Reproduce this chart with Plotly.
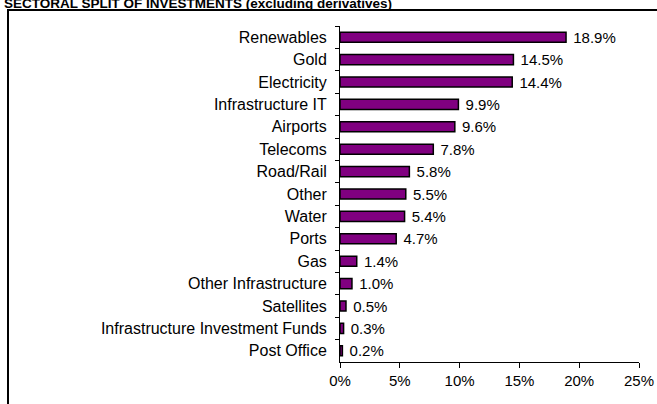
import plotly.graph_objects as go

categories = ["Renewables", "Gold", "Electricity", "Infrastructure IT", "Airports",
              "Telecoms", "Road/Rail", "Other", "Water", "Ports", "Gas",
              "Other Infrastructure", "Satellites", "Infrastructure Investment Funds",
              "Post Office"]
values = [18.9, 14.5, 14.4, 9.9, 9.6, 7.8, 5.8, 5.5, 5.4, 4.7, 1.4, 1.0, 0.5, 0.3, 0.2]
x_ticks = [0, 5, 10, 15, 20, 25]
x_tick_labels = ["0%", "5%", "10%", "15%", "20%", "25%"]
title_text = "SECTORAL SPLIT OF INVESTMENTS (excluding derivatives)"

W, H = 657, 404
L, R, T, B = 340, 18, 26, 42
pw, ph = W - L - R, H - T - B

def px_x(p):
    return (p - L) / pw

def px_y(p):
    return 1 - (p - T) / ph

FONT = "Liberation Sans, Arial"

fig = go.Figure(go.Bar(
    x=values, y=categories, orientation="h",
    marker=dict(color="#800080", line=dict(color="black", width=1.5)),
    width=0.45,
    text=["\u00a0" + f"{v:.1f}%" for v in values], textposition="outside",
    textfont=dict(family=FONT, size=15, color="black"),
    constraintext="none",
    cliponaxis=False,
    hoverinfo="skip",
))

fig.update_layout(
    width=W, height=H,
    margin=dict(l=L, r=R, t=T, b=B, autoexpand=False),
    paper_bgcolor="white", plot_bgcolor="white",
    font=dict(family=FONT, size=15, color="black"),
    showlegend=False,
    xaxis=dict(range=[0, 25], tickvals=x_ticks, ticktext=x_tick_labels,
               showgrid=False, zeroline=False, showline=True, linecolor="black",
               linewidth=1, ticks="outside", ticklen=5, tickcolor="black",
               tickfont=dict(size=15)),
    yaxis=dict(autorange="reversed", showgrid=False, zeroline=False, showline=True,
               linecolor="black", linewidth=1, ticks="outside", ticklen=4,
               tickcolor="black", tickson="boundaries", ticklabelstandoff=9,
               tickfont=dict(size=16)),
    shapes=[
        dict(type="line", xref="paper", yref="paper",
             x0=px_x(7), x1=px_x(660), y0=px_y(10), y1=px_y(10),
             line=dict(color="black", width=2)),
        dict(type="line", xref="paper", yref="paper",
             x0=px_x(8), x1=px_x(8), y0=px_y(9), y1=px_y(420),
             line=dict(color="black", width=2)),
    ],
    annotations=[dict(text="<b>" + title_text + "</b>", xref="paper", yref="paper",
                      x=px_x(2), y=px_y(13), xanchor="left", yanchor="bottom",
                      showarrow=False, font=dict(size=13.5))],
)

fig.write_html("out.html", config={"displayModeBar": False},
               post_script="document.body.style.margin='0';document.body.style.overflow='hidden';")
